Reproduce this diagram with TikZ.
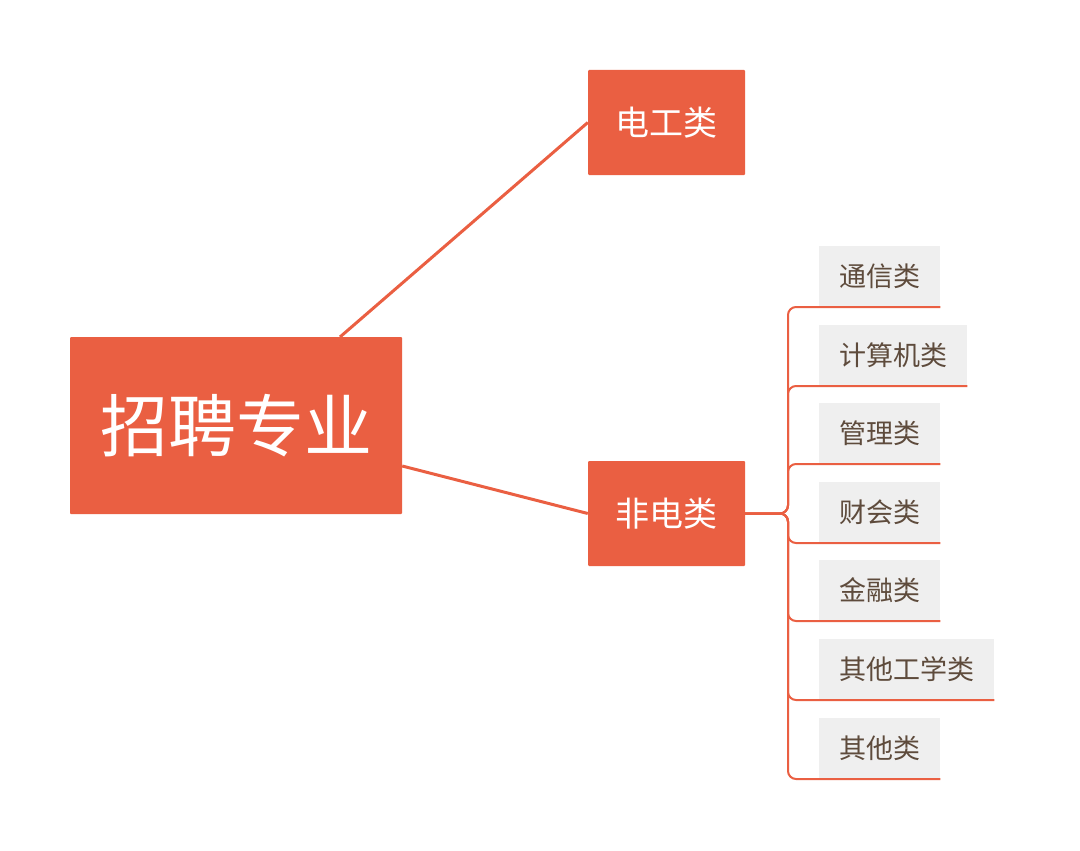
\documentclass[tikz,border=0pt]{standalone}
\usepackage{fontspec}
\newfontfamily\cjk{Noto Sans CJK SC}
\usetikzlibrary{positioning}
\definecolor{mainred}{HTML}{EA5F42}
\definecolor{leafgray}{HTML}{EFEFEF}
\definecolor{leaftext}{HTML}{5E4B3C}
\tikzset{
  topic/.style={fill=mainred, text=white, inner sep=0pt, rounded corners=1pt, font=\cjk\fontsize{34}{40}\selectfont},
  leaf/.style={fill=leafgray, text=leaftext, anchor=south west, minimum height=61pt, inner xsep=20pt, inner ysep=0pt, font=\cjk\fontsize{27}{32}\selectfont},
  link/.style={draw=mainred, line width=3pt},
  branch/.style={draw=mainred, line width=2pt, rounded corners=8pt}
}
\begin{document}
\begin{tikzpicture}[x=1pt,y=-1pt]
   \useasboundingbox (0,0) rectangle (1080,851);
   \node[topic, minimum width=332pt, minimum height=177pt, font=\cjk\fontsize{68}{80}\selectfont] (root) at (236,425.5) {招聘专业};
   \node[topic, minimum width=157pt, minimum height=105pt] (dg) at (666.5,122.5) {电工类};
   \node[topic, minimum width=157pt, minimum height=105pt] (fd) at (666.5,513.5) {非电类};
   \draw[link] (340,337) -- (dg.west);
   \draw[link] (root.east |- 0,466) -- (fd.west);
   \coordinate (spine) at (788,513.5);
   % leaves
   \node[leaf] (l1) at (819,307) {通信类};
   \node[leaf] (l2) at (819,386) {计算机类};
   \node[leaf] (l3) at (819,464) {管理类};
   \node[leaf] (l4) at (819,543) {财会类};
   \node[leaf] (l5) at (819,621) {金融类};
   \node[leaf] (l6) at (819,700) {其他工学类};
   \node[leaf] (l7) at (819,779) {其他类};
   \foreach \n in {l1,l2,l3,l4,l5,l6,l7}
     \draw[branch] (fd.east) -- (spine) |- (\n.south east);
\end{tikzpicture}
\end{document}
